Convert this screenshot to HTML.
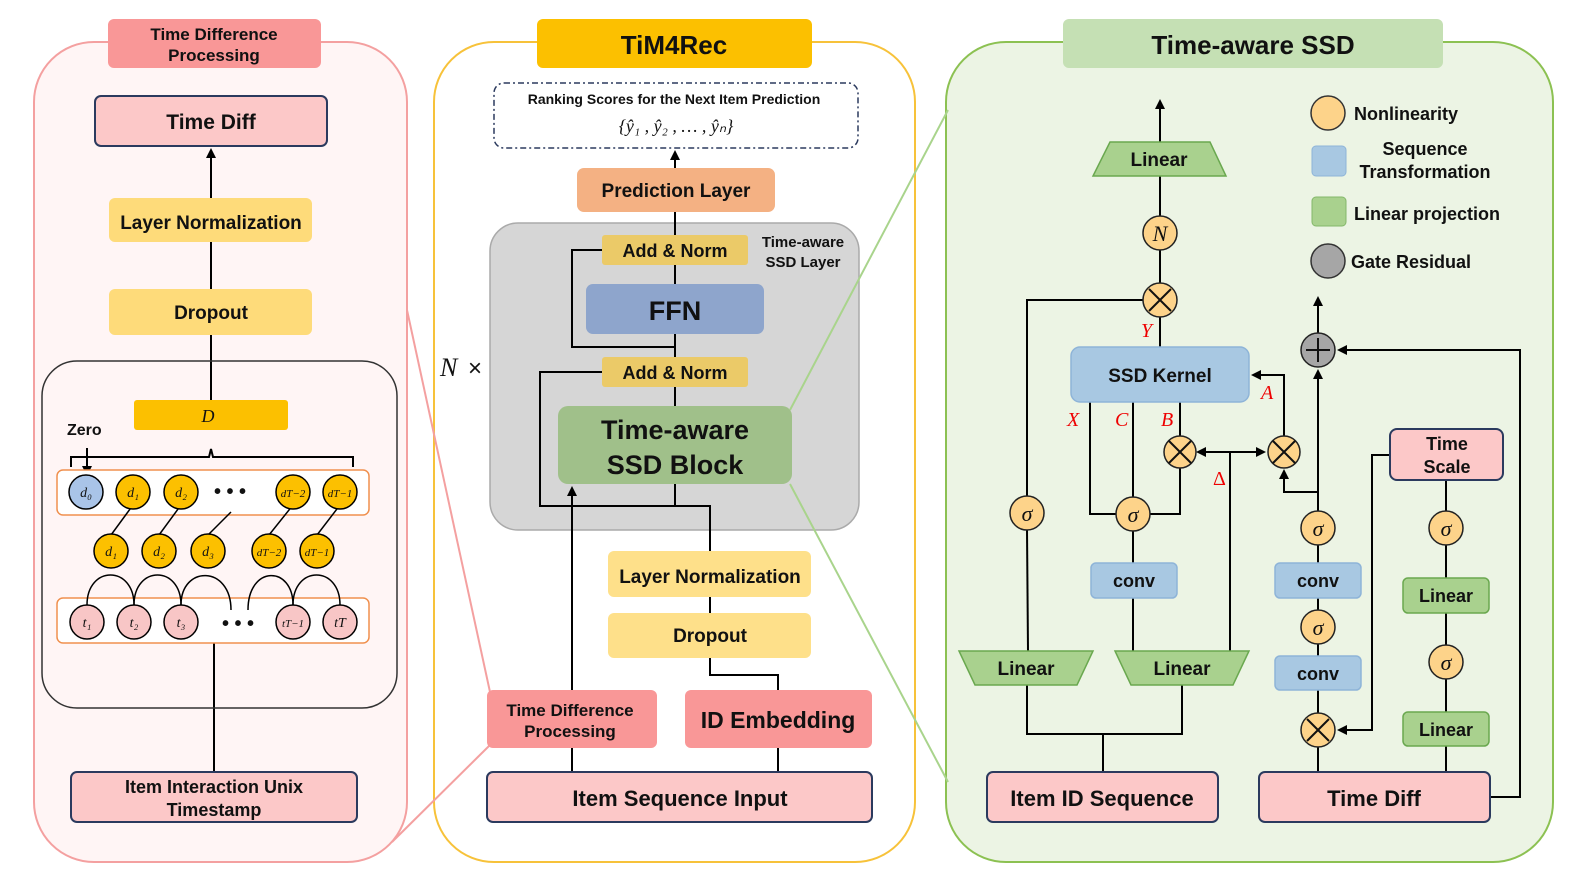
<!DOCTYPE html>
<html><head><meta charset="utf-8"><style>
html,body{margin:0;padding:0;background:#fff;}
svg{display:block;}
text{font-family:"Liberation Sans",sans-serif;font-weight:bold;fill:#111;}
.m{font-family:"Liberation Serif",serif;font-style:italic;font-weight:normal;}
.r{fill:#e00;}
</style></head><body>
<svg width="1578" height="888" viewBox="0 0 1578 888" xmlns="http://www.w3.org/2000/svg">
<defs>
<marker id="ar" markerWidth="10" markerHeight="10" refX="8" refY="5" orient="auto" markerUnits="userSpaceOnUse"><path d="M0,0 L10,5 L0,10 z" fill="#000"/></marker>
</defs>
<!-- LEFT PANEL -->
<rect x="34" y="42" width="373" height="820" rx="60" fill="#fff5f5" stroke="#f4a0a0" stroke-width="2"/>
<rect x="108" y="19" width="213" height="49" rx="6" fill="#f99797"/>
<text x="214" y="40" font-size="17" text-anchor="middle">Time Difference</text>
<text x="214" y="61" font-size="17" text-anchor="middle">Processing</text>
<rect x="95" y="96" width="232" height="50" rx="6" fill="#fcc8c8" stroke="#2b3a5e" stroke-width="2"/>
<text x="211" y="129" font-size="21" text-anchor="middle">Time Diff</text>
<g stroke="#000" stroke-width="2" fill="none">
<line x1="211" y1="198" x2="211" y2="150" marker-end="url(#ar)"/>
<line x1="211" y1="242" x2="211" y2="289"/>
<line x1="211" y1="335" x2="211" y2="400"/>
<line x1="214" y1="643" x2="214" y2="772"/>
</g>
<rect x="109" y="198" width="203" height="44" rx="6" fill="#fedb7a"/>
<text x="211" y="229" font-size="19" text-anchor="middle">Layer Normalization</text>
<rect x="109" y="289" width="203" height="46" rx="6" fill="#fedb7a"/>
<text x="211" y="319" font-size="19" text-anchor="middle">Dropout</text>
<rect x="42" y="361" width="355" height="347" rx="35" fill="none" stroke="#333" stroke-width="1.5"/>
<rect x="134" y="400" width="154" height="30" rx="3" fill="#fcc000"/>
<text x="208" y="422" font-size="18" class="m" text-anchor="middle">D</text>
<path d="M71,467 V457 H209 L211,449 L213,457 H353 V467" fill="none" stroke="#000" stroke-width="2"/>
<text x="67" y="435" font-size="16">Zero</text>
<line x1="87" y1="448" x2="87" y2="474" stroke="#000" stroke-width="2" marker-end="url(#ar)"/>
<rect x="57" y="470" width="312" height="45" rx="6" fill="#fff" stroke="#f0904e" stroke-width="1.5"/>
<rect x="57" y="598" width="312" height="45" rx="6" fill="#fff" stroke="#f0904e" stroke-width="1.5"/>
<g stroke="#000" stroke-width="1.5" fill="none">
<line x1="133" y1="505" x2="111" y2="535"/><line x1="181" y1="505" x2="159" y2="535"/>
<line x1="231" y1="512" x2="208" y2="535"/><line x1="293" y1="505" x2="269" y2="535"/>
<line x1="340" y1="505" x2="317" y2="535"/>
<path d="M87,605 C87,565 134,565 134,605"/><path d="M134,605 C134,565 181,565 181,605"/>
<path d="M181,605 C181,565 231,565 231,610"/><path d="M248,610 C248,565 293,565 293,605"/>
<path d="M293,605 C293,565 340,565 340,605"/>
</g>
<g stroke="#000" stroke-width="1.5">
<circle cx="86" cy="492" r="17" fill="#a9c4e8"/>
<circle cx="133" cy="492" r="17" fill="#fcc000"/><circle cx="181" cy="492" r="17" fill="#fcc000"/>
<circle cx="293" cy="492" r="17" fill="#fcc000"/><circle cx="340" cy="492" r="17" fill="#fcc000"/>
<circle cx="111" cy="551" r="17" fill="#fcc000"/><circle cx="159" cy="551" r="17" fill="#fcc000"/>
<circle cx="208" cy="551" r="17" fill="#fcc000"/><circle cx="269" cy="551" r="17" fill="#fcc000"/>
<circle cx="317" cy="551" r="17" fill="#fcc000"/>
<circle cx="87" cy="622" r="17" fill="#f8c6c6"/><circle cx="134" cy="622" r="17" fill="#f8c6c6"/>
<circle cx="181" cy="622" r="17" fill="#f8c6c6"/><circle cx="293" cy="622" r="17" fill="#f8c6c6"/>
<circle cx="340" cy="622" r="17" fill="#f8c6c6"/>
</g>
<g class="m" font-size="14" text-anchor="middle">
<text class="m" x="86" y="497">d₀</text><text class="m" x="133" y="497">d₁</text><text class="m" x="181" y="497">d₂</text>
<text class="m" x="293" y="497" font-size="11">dT−2</text><text class="m" x="340" y="497" font-size="11">dT−1</text>
<text class="m" x="111" y="556">d₁</text><text class="m" x="159" y="556">d₂</text><text class="m" x="208" y="556">d₃</text>
<text class="m" x="269" y="556" font-size="11">dT−2</text><text class="m" x="317" y="556" font-size="11">dT−1</text>
<text class="m" x="87" y="627">t₁</text><text class="m" x="134" y="627">t₂</text><text class="m" x="181" y="627">t₃</text>
<text class="m" x="293" y="627" font-size="11">tT−1</text><text class="m" x="340" y="627">tT</text>
</g>
<text x="230" y="498" font-size="20" text-anchor="middle">• • •</text>
<text x="238" y="630" font-size="20" text-anchor="middle">• • •</text>
<rect x="71" y="772" width="286" height="50" rx="6" fill="#fcc8c8" stroke="#2b3a5e" stroke-width="2"/>
<text x="214" y="793" font-size="18" text-anchor="middle">Item Interaction Unix</text>
<text x="214" y="816" font-size="18" text-anchor="middle">Timestamp</text>

<!-- MIDDLE PANEL -->
<rect x="434" y="42" width="481" height="820" rx="60" fill="#fff" stroke="#f7c23a" stroke-width="2"/>
<line x1="407" y1="310" x2="490" y2="692" stroke="#f4a0a0" stroke-width="2"/>
<line x1="392" y1="842" x2="490" y2="745" stroke="#f4a0a0" stroke-width="2"/>
<rect x="537" y="19" width="275" height="49" rx="6" fill="#fcc000"/>
<text x="674" y="54" font-size="26" text-anchor="middle">TiM4Rec</text>
<rect x="494" y="83" width="364" height="65" rx="10" fill="#fff" stroke="#2b3a5e" stroke-width="1.5" stroke-dasharray="6,3,2,3"/>
<text x="674" y="104" font-size="14" text-anchor="middle">Ranking Scores for the Next Item Prediction</text>
<text class="m" x="676" y="132" font-size="18" text-anchor="middle">{ŷ₁ , ŷ₂ , … , ŷₙ}</text>
<rect x="490" y="223" width="369" height="307" rx="28" fill="#d6d6d6" stroke="#aaa" stroke-width="1.5"/>
<g stroke="#000" stroke-width="2" fill="none">
<line x1="675" y1="168" x2="675" y2="152" marker-end="url(#ar)"/>
<line x1="675" y1="212" x2="675" y2="235"/>
<line x1="675" y1="265" x2="675" y2="284"/>
<line x1="675" y1="334" x2="675" y2="357"/>
<line x1="675" y1="387" x2="675" y2="406"/>
<polyline points="675,347 572,347 572,250 602,250"/>
<polyline points="778,690 778,675 710,675 710,658"/>
<line x1="710" y1="613" x2="710" y2="597"/>
<polyline points="710,551 710,506 540,506 540,372 602,372"/>
<line x1="675" y1="506" x2="675" y2="484"/>
<line x1="572" y1="772" x2="572" y2="748"/>
<line x1="778" y1="772" x2="778" y2="748"/>
<line x1="572" y1="690" x2="572" y2="488" marker-end="url(#ar)"/>
</g>
<rect x="577" y="168" width="198" height="44" rx="7" fill="#f4b183"/>
<text x="676" y="197" font-size="19" text-anchor="middle">Prediction Layer</text>
<rect x="602" y="235" width="146" height="30" rx="3" fill="#ebca68"/>
<text x="675" y="257" font-size="18" text-anchor="middle">Add &amp; Norm</text>
<text x="803" y="247" font-size="15" text-anchor="middle">Time-aware</text>
<text x="803" y="267" font-size="15" text-anchor="middle">SSD Layer</text>
<rect x="586" y="284" width="178" height="50" rx="7" fill="#8ea5cc"/>
<text x="675" y="320" font-size="27" text-anchor="middle">FFN</text>
<rect x="602" y="357" width="146" height="30" rx="3" fill="#ebca68"/>
<text x="675" y="379" font-size="18" text-anchor="middle">Add &amp; Norm</text>
<rect x="558" y="406" width="234" height="78" rx="10" fill="#a0c08a"/>
<text x="675" y="439" font-size="27" text-anchor="middle">Time-aware</text>
<text x="675" y="474" font-size="27" text-anchor="middle">SSD Block</text>
<text class="m" x="440" y="376" font-size="26">N</text><text x="468" y="376" font-size="24" style="font-weight:normal">×</text>
<rect x="608" y="551" width="203" height="46" rx="6" fill="#fee08a"/>
<text x="710" y="583" font-size="19" text-anchor="middle">Layer Normalization</text>
<rect x="608" y="613" width="203" height="45" rx="6" fill="#fee08a"/>
<text x="710" y="642" font-size="19" text-anchor="middle">Dropout</text>
<rect x="487" y="690" width="170" height="58" rx="6" fill="#f99797"/>
<text x="570" y="716" font-size="17" text-anchor="middle">Time Difference</text>
<text x="570" y="737" font-size="17" text-anchor="middle">Processing</text>
<rect x="685" y="690" width="187" height="58" rx="6" fill="#f99797"/>
<text x="778" y="728" font-size="23" text-anchor="middle">ID Embedding</text>
<rect x="487" y="772" width="385" height="50" rx="6" fill="#fcc8c8" stroke="#2b3a5e" stroke-width="2"/>
<text x="680" y="806" font-size="22" text-anchor="middle">Item Sequence Input</text>

<!-- RIGHT PANEL -->
<rect x="946" y="42" width="607" height="820" rx="60" fill="#ecf4e4" stroke="#8cc152" stroke-width="2"/>
<line x1="948" y1="110" x2="790" y2="410" stroke="#a9d48c" stroke-width="2"/>
<line x1="948" y1="782" x2="790" y2="484" stroke="#a9d48c" stroke-width="2"/>
<rect x="1063" y="19" width="380" height="49" rx="6" fill="#c5e0b4"/>
<text x="1253" y="54" font-size="26" text-anchor="middle">Time-aware SSD</text>
<!-- legend -->
<circle cx="1328" cy="113" r="17" fill="#fdd38a" stroke="#333" stroke-width="1.5"/>
<text x="1354" y="120" font-size="18">Nonlinearity</text>
<rect x="1312" y="146" width="34" height="30" rx="4" fill="#a8c8e2" stroke="#8eb4d8"/>
<text x="1425" y="155" font-size="18" text-anchor="middle">Sequence</text>
<text x="1425" y="178" font-size="18" text-anchor="middle">Transformation</text>
<rect x="1312" y="197" width="34" height="29" rx="4" fill="#a9d18e" stroke="#84b86a"/>
<text x="1354" y="220" font-size="18">Linear projection</text>
<circle cx="1328" cy="261" r="17" fill="#a6a6a6" stroke="#333" stroke-width="1.5"/>
<text x="1351" y="268" font-size="18">Gate Residual</text>
<!-- lines -->
<g stroke="#000" stroke-width="2" fill="none">
<line x1="1160" y1="142" x2="1160" y2="101" marker-end="url(#ar)"/>
<line x1="1160" y1="176" x2="1160" y2="216"/>
<line x1="1160" y1="250" x2="1160" y2="283"/>
<line x1="1160" y1="317" x2="1160" y2="347"/>
<polyline points="1143,300 1027,300 1027,496"/>
<line x1="1027" y1="530" x2="1028" y2="651"/>
<polyline points="1090,402 1090,514 1116,514"/>
<line x1="1133" y1="402" x2="1133" y2="497"/>
<line x1="1180" y1="402" x2="1180" y2="437"/>
<polyline points="1180,467 1180,514 1150,514"/>
<line x1="1133" y1="531" x2="1133" y2="563"/>
<line x1="1133" y1="598" x2="1133" y2="651"/>
<polyline points="1230,651 1230,452"/>
<line x1="1230" y1="452" x2="1198" y2="452" marker-end="url(#ar)"/>
<line x1="1230" y1="452" x2="1264" y2="452" marker-end="url(#ar)"/>
<polyline points="1284,437 1284,375 1253,375" marker-end="url(#ar)"/>
<polyline points="1318,492 1284,492 1284,471" marker-end="url(#ar)"/>
<line x1="1318" y1="511" x2="1318" y2="371" marker-end="url(#ar)"/>
<line x1="1318" y1="333" x2="1318" y2="298" marker-end="url(#ar)"/>
<polyline points="1491,797 1520,797 1520,350 1339,350" marker-end="url(#ar)"/>
<line x1="1318" y1="545" x2="1318" y2="563"/>
<line x1="1318" y1="598" x2="1318" y2="610"/>
<line x1="1318" y1="644" x2="1318" y2="656"/>
<line x1="1318" y1="690" x2="1318" y2="713"/>
<line x1="1318" y1="747" x2="1318" y2="772"/>
<polyline points="1390,455 1372,455 1372,730 1339,730" marker-end="url(#ar)"/>
<line x1="1446" y1="480" x2="1446" y2="511"/>
<line x1="1446" y1="545" x2="1446" y2="578"/>
<line x1="1446" y1="613" x2="1446" y2="645"/>
<line x1="1446" y1="679" x2="1446" y2="712"/>
<line x1="1446" y1="746" x2="1446" y2="772"/>
<polyline points="1027,685 1027,734 1182,734 1182,685"/>
<line x1="1103" y1="734" x2="1103" y2="772"/>
</g>
<polygon points="1110,142 1210,142 1226,176 1093,176" fill="#a9d18e" stroke="#6aa84f" stroke-width="1.5"/>
<text x="1159" y="166" font-size="19" text-anchor="middle">Linear</text>
<polygon points="959,651 1093,651 1077,685 975,685" fill="#a9d18e" stroke="#6aa84f" stroke-width="1.5"/>
<text x="1026" y="675" font-size="19" text-anchor="middle">Linear</text>
<polygon points="1115,651 1249,651 1233,685 1131,685" fill="#a9d18e" stroke="#6aa84f" stroke-width="1.5"/>
<text x="1182" y="675" font-size="19" text-anchor="middle">Linear</text>
<rect x="1071" y="347" width="178" height="55" rx="9" fill="#a8c8e2" stroke="#8eb4d8" stroke-width="1.5"/>
<text x="1160" y="382" font-size="19" text-anchor="middle">SSD Kernel</text>
<rect x="1091" y="563" width="86" height="35" rx="5" fill="#a8c8e2" stroke="#8eb4d8" stroke-width="1.5"/>
<text x="1134" y="587" font-size="18" text-anchor="middle">conv</text>
<rect x="1275" y="563" width="86" height="35" rx="5" fill="#a8c8e2" stroke="#8eb4d8" stroke-width="1.5"/>
<text x="1318" y="587" font-size="18" text-anchor="middle">conv</text>
<rect x="1275" y="656" width="86" height="34" rx="5" fill="#a8c8e2" stroke="#8eb4d8" stroke-width="1.5"/>
<text x="1318" y="680" font-size="18" text-anchor="middle">conv</text>
<rect x="1403" y="578" width="86" height="35" rx="5" fill="#a9d18e" stroke="#6aa84f" stroke-width="1.5"/>
<text x="1446" y="602" font-size="18" text-anchor="middle">Linear</text>
<rect x="1403" y="712" width="86" height="34" rx="5" fill="#a9d18e" stroke="#6aa84f" stroke-width="1.5"/>
<text x="1446" y="736" font-size="18" text-anchor="middle">Linear</text>
<rect x="1390" y="429" width="113" height="51" rx="7" fill="#fcc8c8" stroke="#2b3a5e" stroke-width="2"/>
<text x="1447" y="450" font-size="18" text-anchor="middle">Time</text>
<text x="1447" y="473" font-size="18" text-anchor="middle">Scale</text>
<!-- circles -->
<g stroke="#222" stroke-width="1.5" fill="#fdd38a">
<circle cx="1160" cy="233" r="17"/>
<circle cx="1160" cy="300" r="17"/>
<circle cx="1027" cy="513" r="17"/>
<circle cx="1133" cy="514" r="17"/>
<circle cx="1180" cy="452" r="16"/>
<circle cx="1284" cy="452" r="16"/>
<circle cx="1318" cy="528" r="17"/>
<circle cx="1318" cy="627" r="17"/>
<circle cx="1318" cy="730" r="17"/>
<circle cx="1446" cy="528" r="17"/>
<circle cx="1446" cy="662" r="17"/>
<circle cx="1318" cy="350" r="17" fill="#a6a6a6"/>
</g>
<g stroke="#111" stroke-width="2">
<path d="M1149,289 L1171,311 M1171,289 L1149,311"/>
<path d="M1169,441 L1191,463 M1191,441 L1169,463"/>
<path d="M1273,441 L1295,463 M1295,441 L1273,463"/>
<path d="M1307,719 L1329,741 M1329,719 L1307,741"/>
<path d="M1306,350 H1330 M1318,338 V362"/>
</g>
<g font-size="22" text-anchor="middle">
<text class="m" x="1160" y="241">N</text>
<text class="m" x="1027" y="521">σ</text><text class="m" x="1133" y="522">σ</text>
<text class="m" x="1318" y="536">σ</text><text class="m" x="1318" y="635">σ</text>
<text class="m" x="1446" y="536">σ</text><text class="m" x="1446" y="670">σ</text>
</g>
<g font-size="20">
<text class="m r" x="1141" y="337">Y</text>
<text class="m r" x="1067" y="426">X</text>
<text class="m r" x="1115" y="426">C</text>
<text class="m r" x="1161" y="426">B</text>
<text class="m r" x="1261" y="399">A</text>
<text class="m r" x="1213" y="485" style="font-style:normal">Δ</text>
</g>
<rect x="987" y="772" width="231" height="50" rx="6" fill="#fcc8c8" stroke="#2b3a5e" stroke-width="2"/>
<text x="1102" y="806" font-size="22" text-anchor="middle">Item ID Sequence</text>
<rect x="1259" y="772" width="231" height="50" rx="6" fill="#fcc8c8" stroke="#2b3a5e" stroke-width="2"/>
<text x="1374" y="806" font-size="22" text-anchor="middle">Time Diff</text>
</svg>
</body></html>
